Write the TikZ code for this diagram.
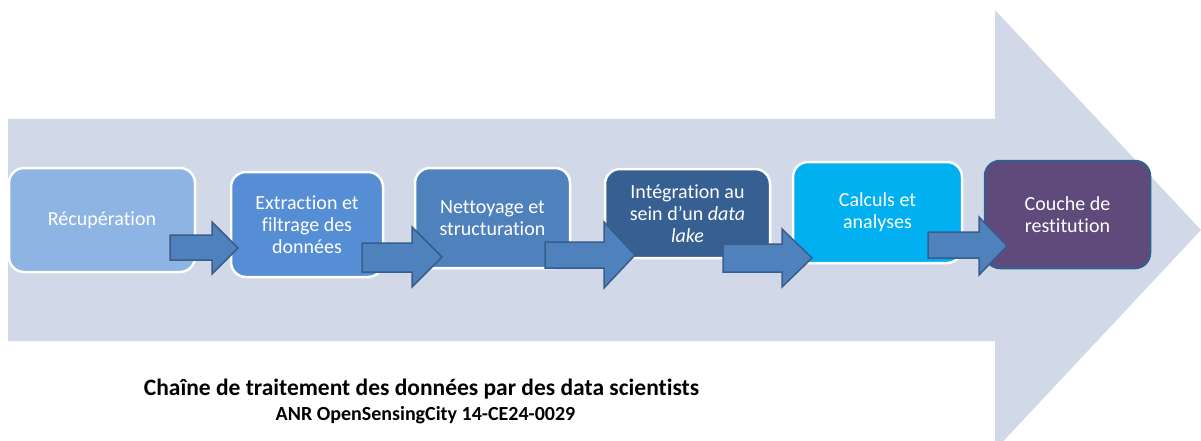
\documentclass[tikz,border=0pt]{standalone}
\usepackage{fontspec}
\setmainfont[Ligatures=NoCommon]{Carlito}
\definecolor{bigarrow}{RGB}{209,217,232}
\definecolor{cA}{RGB}{142,180,227}
\definecolor{cB}{RGB}{85,142,213}
\definecolor{cC}{RGB}{79,129,189}
\definecolor{cD}{RGB}{55,96,146}
\definecolor{cE}{RGB}{0,176,240}
\definecolor{cF}{RGB}{96,74,123}
\definecolor{arrblue}{RGB}{79,129,189}
\definecolor{arredge}{RGB}{56,93,138}
\tikzset{
  stepbox/.style={rectangle, rounded corners=15pt, draw=white, line width=2.5pt,
    text=white, font=\fontsize{20}{22}\selectfont, align=center, inner sep=0pt},
  smallarr/.style={fill=arrblue, draw=arredge, line width=1.5pt, line join=miter},
}
\begin{document}
\begin{tikzpicture}[x=1pt,y=-1pt]
\useasboundingbox (0,0) rectangle (1201,441);
\begin{scope}
\clip (0,0) rectangle (1201,441);
\fill[bigarrow] (8,119) -- (995,119) -- (995,10) -- (1201,230) -- (995,450) -- (995,341) -- (8,341) -- cycle;
\end{scope}

\node[stepbox, fill=cA, minimum width=186pt, minimum height=104pt] (b1) at (102,220) {Récupération};
\node[stepbox, fill=cB, minimum width=152pt, minimum height=105pt] (b2) at (307,224.5) {Extraction et\\filtrage des\\données};
\node[stepbox, fill=cC, minimum width=155pt, minimum height=100pt] (b3) at (492.5,218) {Nettoyage et\\structuration};
\node[stepbox, fill=cD, minimum width=165pt, minimum height=89pt] (b4) at (687.5,213.5) {Intégration au\\sein d’un \textit{data}\\\textit{lake}};
\node[stepbox, fill=cE, minimum width=169pt, minimum height=101pt] (b5) at (877.5,212.5) {Calculs et\\analyses};
\node[stepbox, fill=cF, draw=arredge, minimum width=165pt, minimum height=107pt] (b6) at (1067.5,214.5) {Couche de\\restitution};

\draw[smallarr] (170,235) -- (212,235) -- (212,222) -- (238,248) -- (212,274) -- (212,260) -- (170,260) -- cycle;
\draw[smallarr] (362,243) -- (412,243) -- (412,227) -- (442,257) -- (412,287) -- (412,272) -- (362,272) -- cycle;
\draw[smallarr] (545,242) -- (604,242) -- (604,222) -- (635,255) -- (604,288) -- (604,268) -- (545,268) -- cycle;
\draw[smallarr] (723,244) -- (782,244) -- (782,229) -- (812,258) -- (782,287) -- (782,272) -- (723,272) -- cycle;
\draw[smallarr] (928,232) -- (979,232) -- (979,217) -- (1007,246) -- (979,275) -- (979,258) -- (928,258) -- cycle;

\node[font=\bfseries\fontsize{23.5}{28}\selectfont, anchor=base] (cap1) at (421.5,395) {Chaîne de traitement des données par des data scientists};
\node[font=\bfseries\fontsize{20}{24}\selectfont, anchor=base] (cap2) at (425.5,420) {ANR OpenSensingCity 14-CE24-0029};
\end{tikzpicture}
\end{document}
